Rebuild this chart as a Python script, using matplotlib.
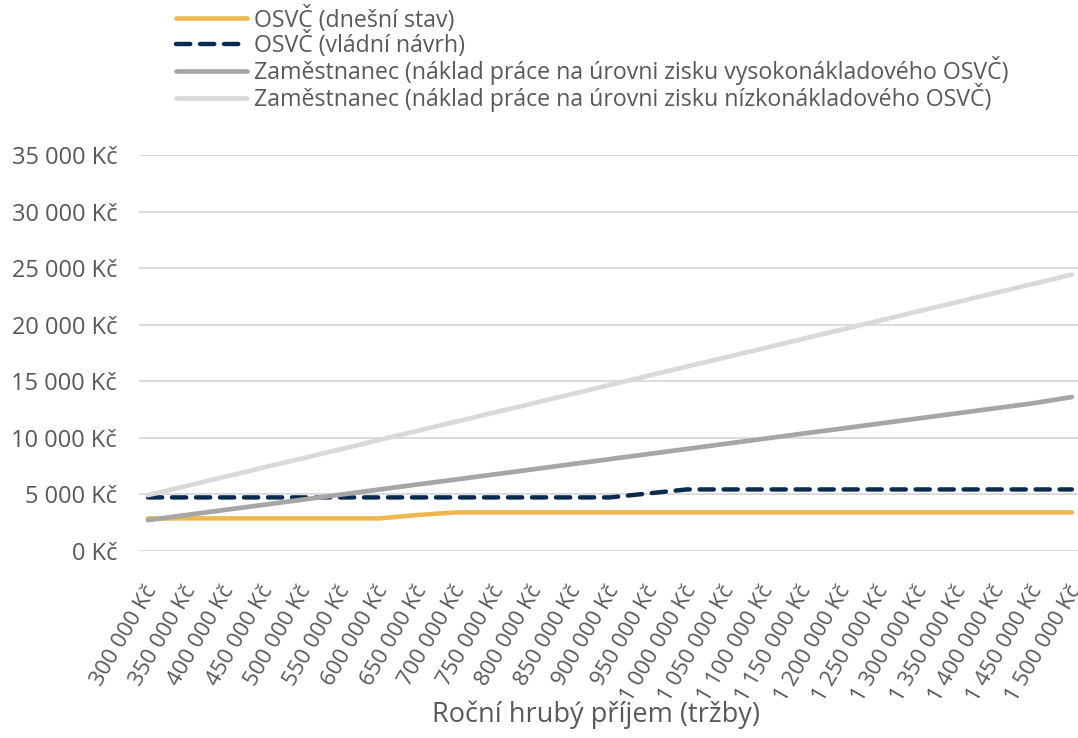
import matplotlib
matplotlib.use("Agg")
import matplotlib.pyplot as plt
import matplotlib.transforms as mtransforms
import numpy as np

plt.rcParams['font.family'] = ['Open Sans', 'DejaVu Sans']

# rocni hruby prijem (trzby), Kc
prijem = [300000, 350000, 400000, 450000, 500000, 550000, 600000, 650000,
          700000, 750000, 800000, 850000, 900000, 950000, 1000000, 1050000,
          1100000, 1150000, 1200000, 1250000, 1300000, 1350000, 1400000,
          1450000, 1500000]

osvc_dnes = [2880] * 7 + [3180] + [3410] * 17
osvc_navrh = [4735] * 13 + [5090] + [5440] * 11
zam_vysoko = [2730, 3180, 3630, 4080, 4530, 4980, 5430, 5880, 6320, 6770,
              7220, 7670, 8120, 8570, 9020, 9470, 9920, 10370, 10810, 11260,
              11710, 12160, 12610, 13060, 13610]
zam_nizko = [4940, 5750, 6560, 7370, 8180, 8990, 9810, 10620, 11430, 12240,
             13050, 13860, 14680, 15490, 16300, 17110, 17920, 18740, 19550,
             20360, 21170, 21980, 22800, 23610, 24430]

labels = ["OSVČ (dnešní stav)",
          "OSVČ (vládní návrh)",
          "Zaměstnanec (náklad práce na úrovni zisku vysokonákladového OSVČ)",
          "Zaměstnanec (náklad práce na úrovni zisku nízkonákladového OSVČ)"]

def kc(v):
    return f"{v:,.0f}".replace(",", " ") + " Kč"

txt = "#595959"
fig = plt.figure(figsize=(10.78, 7.38), dpi=100)
ax = fig.add_axes([0.1292, 0.2534, 0.8705, 0.5366])

x = np.arange(len(prijem))
ax.plot(x, osvc_dnes, color="#EDB94F", lw=3.3, solid_capstyle="round", label=labels[0])
ax.plot(x, osvc_navrh, color="#0B2A4F", lw=3.2, dashes=(3.2, 2.2),
        dash_capstyle="round", label=labels[1])
ax.plot(x, zam_vysoko, color="#A6A6A6", lw=3.4, solid_capstyle="round", label=labels[2])
ax.plot(x, zam_nizko, color="#D9D9D9", lw=3.4, solid_capstyle="round", label=labels[3])

ax.set_ylim(0, 35000)
ax.set_xlim(-0.226, 24.15)
yt = np.arange(0, 35001, 5000)
ax.set_yticks(yt)
ax.set_yticklabels([kc(v) for v in yt])
ax.set_xticks(x)
ax.set_xticklabels([kc(v) for v in prijem], rotation=60,
                   rotation_mode="anchor", ha="right", va="top")

ax.grid(axis="y", color="#D9D9D9", lw=1.3)
ax.set_axisbelow(True)
for s in ax.spines.values():
    s.set_visible(False)
ax.tick_params(axis="y", length=0, pad=16, labelsize=17, labelcolor=txt)
ax.tick_params(axis="x", length=0, pad=22, labelsize=16, labelcolor=txt)

# nudge the rotated labels a bit to the left (after tick_params, which resets transforms)
shift = mtransforms.ScaledTranslation(-0.045, 0, fig.dpi_scale_trans)
for t in ax.get_xticklabels():
    t.set_transform(t.get_transform() + shift)

fig.text(596 / 1078, 1 - 715 / 738, "Roční hrubý příjem (tržby)",
         ha="center", va="center", fontsize=19.5, color=txt)

fig.legend(loc="upper left", bbox_to_anchor=(0.155, 1.005), frameon=False,
           fontsize=16.7, labelcolor=txt, handlelength=3.05, handletextpad=0.3,
           labelspacing=-0.08, borderaxespad=0)

fig.savefig("out.png", dpi=100)
